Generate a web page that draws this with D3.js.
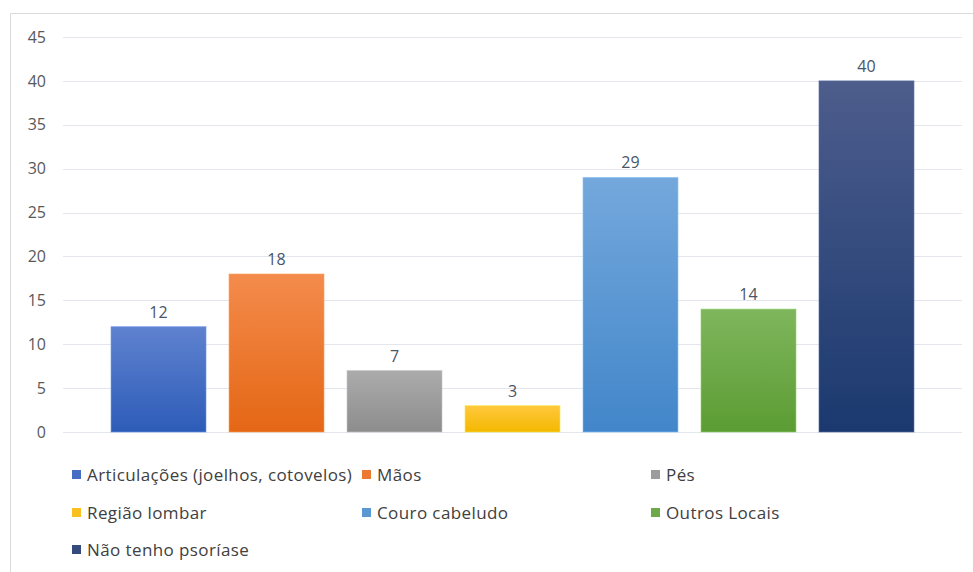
<!DOCTYPE html>
<html>
<head>
<meta charset="utf-8">
<script src="https://cdn.jsdelivr.net/npm/d3@7"></script>
<style>
  body { margin: 0; background: #fff; }
  svg { display: block; font-family: "Open Sans", "Noto Sans", sans-serif; }
</style>
</head>
<body>
<svg id="svg" width="973" height="572"></svg>
<script>
const categories = ["Articulações (joelhos, cotovelos)", "Mãos", "Pés", "Região lombar", "Couro cabeludo", "Outros Locais", "Não tenho psoríase"];
const values = [12, 18, 7, 3, 29, 14, 40];
const yTicks = [0, 5, 10, 15, 20, 25, 30, 35, 40, 45];
// top / bottom gradient stops per series
const topColors = ["#5f82cf", "#f48b4c", "#ababab", "#ffc83d", "#74a8dc", "#7fb65d", "#4d5d8c"];
const bottomColors = ["#2d5cb8", "#e46715", "#8d8d8d", "#f4b800", "#4286ca", "#5b9c33", "#1b396f"];

const width = 973;
const height = 572;
const svg = d3.select("#svg");

// frame
svg.append("path")
  .attr("d", `M10.5,${height} V13.5 H${width}`)
  .attr("fill", "none")
  .attr("stroke", "#d9d9d9")
  .attr("stroke-width", 1);

const x = d3.scaleBand()
  .domain(categories)
  .range([63, 962])
  .paddingInner(0.195)
  .paddingOuter(0.407);

const y = d3.scaleLinear()
  .domain([0, 45])
  .range([432, 37]);

// gridlines
svg.append("g")
  .selectAll("line")
  .data(yTicks)
  .join("line")
  .attr("x1", 63)
  .attr("x2", 962)
  .attr("y1", d => Math.round(y(d)) + 0.5)
  .attr("y2", d => Math.round(y(d)) + 0.5)
  .attr("stroke", "#e3e6ec")
  .attr("stroke-width", 1);

// y tick labels
const yAxis = svg.append("g")
  .attr("transform", "translate(46,0)")
  .call(d3.axisLeft(y).tickValues(yTicks).tickSize(0).tickPadding(0));
yAxis.select(".domain").remove();
yAxis.selectAll("text")
  .attr("fill", "#595959")
  .style("font-size", "16px")
  .style("font-family", "'Open Sans', sans-serif");

const defs = svg.append("defs");
categories.forEach((c, i) => {
  const g = defs.append("linearGradient")
    .attr("id", `grad-${i}`)
    .attr("x1", 0).attr("y1", 0).attr("x2", 0).attr("y2", 1);
  g.append("stop").attr("offset", "0%").attr("stop-color", topColors[i]);
  g.append("stop").attr("offset", "100%").attr("stop-color", bottomColors[i]);
});

svg.append("g")
  .selectAll("rect")
  .data(values)
  .join("rect")
  .attr("x", (d, i) => x(categories[i]))
  .attr("y", d => y(d))
  .attr("width", x.bandwidth())
  .attr("height", d => y(0) - y(d))
  .attr("fill", (d, i) => `url(#grad-${i})`)
  .attr("stroke", (d, i) => d3.color(topColors[i]).brighter(0.4))
  .attr("stroke-opacity", 0.6)
  .attr("stroke-width", 1);

// value labels
svg.append("g")
  .selectAll("text")
  .data(values)
  .join("text")
  .attr("x", (d, i) => x(categories[i]) + x.bandwidth() / 2)
  .attr("y", d => y(d) - 9)
  .attr("text-anchor", "middle")
  .attr("fill", "#4a5568")
  .style("font-size", "16px")
  .text(d => d);

// legend
const legendCols = [72, 362, 651];
const legendRows = [475, 513, 550];
const legend = svg.append("g")
  .selectAll("g")
  .data(categories)
  .join("g")
  .attr("transform", (d, i) => `translate(${legendCols[i % 3]},${legendRows[Math.floor(i / 3)]})`);

legend.append("rect")
  .attr("x", 0)
  .attr("y", -5)
  .attr("width", 9)
  .attr("height", 9)
  .attr("fill", (d, i) => d3.interpolateRgb(topColors[i], bottomColors[i])(0.5));

legend.append("text")
  .attr("x", 15)
  .attr("y", 0)
  .attr("dy", "0.35em")
  .attr("fill", "#404040")
  .style("font-size", "17px")
  .style("letter-spacing", "0.4px")
  .text(d => d);
</script>
</body>
</html>
